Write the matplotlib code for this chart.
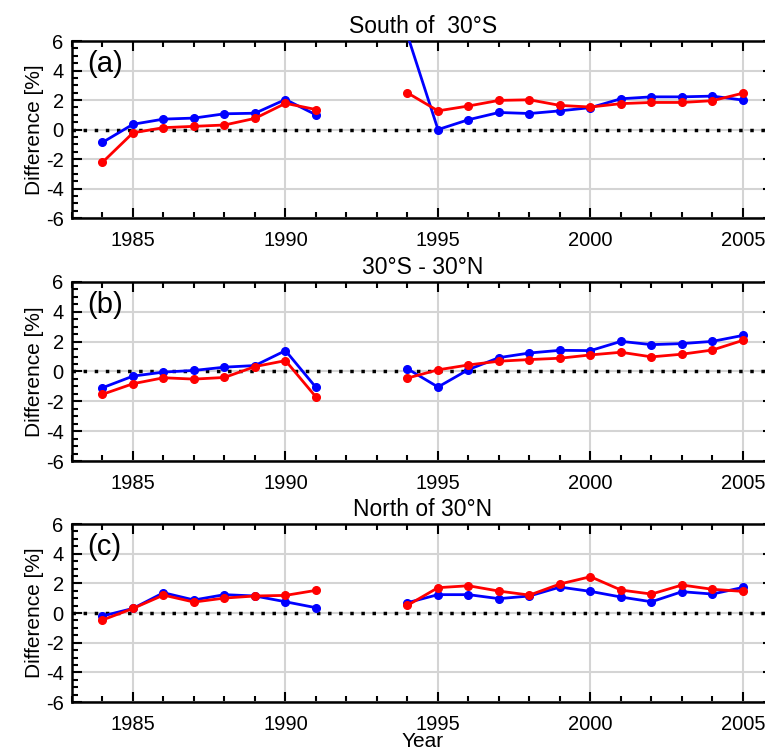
import numpy as np
import matplotlib
matplotlib.use("Agg")
import matplotlib.pyplot as plt
from matplotlib.ticker import MultipleLocator

plt.rcParams['font.family'] = ['Liberation Sans', 'DejaVu Sans']
plt.rcParams['axes.unicode_minus'] = False

nan = np.nan
years = np.arange(1984, 2006)

# panel (a) South of 30S
a_blue = [-0.87, 0.36, 0.71, 0.78, 1.07, 1.11, 2.04, 1.0, nan, nan,
          6.4, 0.0, 0.67, 1.16, 1.09, 1.27, 1.49, 2.09, 2.22, 2.22, 2.27, 2.0]
a_red = [-2.22, -0.22, 0.13, 0.22, 0.31, 0.76, 1.78, 1.36, nan, nan,
         2.49, 1.27, 1.6, 1.98, 2.02, 1.64, 1.53, 1.76, 1.84, 1.84, 1.96, 2.47]

# panel (b) 30S - 30N
b_blue = [-1.09, -0.31, -0.04, 0.07, 0.29, 0.4, 1.4, -1.07, nan, nan,
          0.18, -1.04, 0.13, 0.93, 1.24, 1.42, 1.4, 2.02, 1.8, 1.87, 2.02, 2.42]
b_red = [-1.53, -0.82, -0.42, -0.51, -0.4, 0.33, 0.73, -1.71, nan, nan,
         -0.44, 0.11, 0.44, 0.69, 0.8, 0.89, 1.11, 1.29, 0.98, 1.16, 1.44, 2.09]

# panel (c) North of 30N
c_blue = [-0.2, 0.31, 1.37, 0.88, 1.24, 1.15, 0.76, 0.36, nan, nan,
          0.7, 1.24, 1.24, 0.97, 1.15, 1.75, 1.46, 1.08, 0.76, 1.44, 1.28, 1.73]
c_red = [-0.47, 0.31, 1.21, 0.74, 1.01, 1.15, 1.19, 1.53, nan, nan,
         0.52, 1.71, 1.84, 1.48, 1.21, 1.96, 2.45, 1.55, 1.28, 1.89, 1.6, 1.46]

titles = ["South of  30°S", "30°S - 30°N", "North of 30°N"]
labels = ["(a)", "(b)", "(c)"]
blues = [a_blue, b_blue, c_blue]
reds = [a_red, b_red, c_red]

# axes boxes in figure fraction (right edge runs past the figure, as in the original crop)
boxes = [[0.0941, 0.7116, 0.917, 0.234],
         [0.0941, 0.3902, 0.917, 0.2368],
         [0.0941, 0.0714, 0.917, 0.2354]]

fig = plt.figure(figsize=(7.65, 7.56), dpi=100)

for i in range(3):
    ax = fig.add_axes(boxes[i])
    ax.set_xlim(1983, 2006)
    ax.set_ylim(-6, 6)
    ax.grid(True, color='#d4d4d4', lw=1.5)
    ax.set_axisbelow(True)
    ax.axhline(0, color='black', lw=2.5, ls=(0, (1, 2.2)), zorder=2)
    ax.plot(years, blues[i], color='#0000ff', lw=2.0, marker='o', ms=5.5, zorder=3)
    ax.plot(years, reds[i], color='#ff0000', lw=2.0, marker='o', ms=5.5, zorder=4)
    ax.xaxis.set_major_locator(MultipleLocator(5))
    ax.xaxis.set_minor_locator(MultipleLocator(1))
    ax.yaxis.set_major_locator(MultipleLocator(2))
    ax.yaxis.set_minor_locator(MultipleLocator(0.5))
    ax.tick_params(which='both', direction='in', top=True, right=True, width=1.5,
                   labelsize=14.5)
    ax.tick_params(axis='x', pad=9)
    ax.tick_params(axis='y', pad=6)
    ax.tick_params(which='major', length=7)
    ax.tick_params(which='minor', length=4)
    for s in ax.spines.values():
        s.set_linewidth(1.8)
    ax.set_title(titles[i], fontsize=16.5, pad=6)
    ax.set_ylabel("Difference [%]", fontsize=15, labelpad=1)
    ax.text(0.022, 0.87, labels[i], transform=ax.transAxes, fontsize=21,
            ha='left', va='center')
    if i == 2:
        ax.set_xlabel("Year", fontsize=15, labelpad=-1)

fig.savefig("out.png", dpi=100)
